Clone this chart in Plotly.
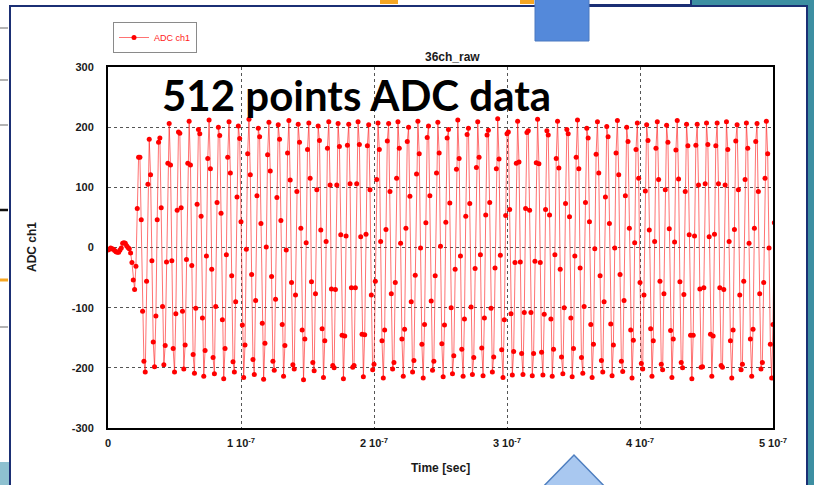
import plotly.graph_objects as go

# ---------------- data ----------------
SAMPLE_PERIOD = 1e-9  # seconds per ADC sample

adc_startup = [-4, -3, -1, -2, -3, -5, -7, -8, -8, -4, -1, 7, 8, 7, 3, 0, -2, -9, -25, -54,
               -70, -31, 65, 150, 150, 46, -106, -189, -207, -56, 105, 180, 121, -22, -157, -198,
               -114, 46, 175, 182, 66, -98, -195, -163, -24, 140]

adc_steady = [
    206, 137, -22, -168, -207, -110, 62, 192, 190, 66, -106, -202, -162, -20, 140,
    210, 137, -30, -178, -209, -101, 72, 196, 189, 52, -117, -214, -171, -14, 148,
    212, 131, -36, -183, -210, -98, 75, 200, 186, 57, -120, -218, -168, -12, 150,
    209, 124, -47, -190, -207, -90, 84, 202, 181, 43, -129, -216, -162, -3, 156,
    213, 121, -45, -186, -211, -88, 86, 198, 184, 40, -126, -219, -159, 1, 154,
    208, 127, -48, -189, -204, -86, 83, 204, 180, 45, -128, -214, -163, -4, 157,
    211, 112, -58, -195, -202, -79, 93, 205, 175, 32, -137, -220, -152, 8, 163,
    207, 115, -57, -191, -205, -77, 96, 202, 178, 29, -135, -216, -155, 10, 165,
    209, 104, -69, -196, -200, -70, 104, 206, 168, 21, -146, -218, -147, 19, 170,
    205, 106, -67, -199, -196, -67, 106, 209, 171, 18, -144, -215, -145, 22, 169,
    204, 96, -79, -203, -194, -56, 113, 207, 163, 10, -155, -217, -137, 30, 177,
    206, 93, -77, -202, -191, -58, 115, 209, 165, 7, -152, -214, -136, 32, 176,
    200, 85, -90, -207, -188, -46, 122, 210, 156, -1, -161, -217, -128, 41, 183,
    202, 86, -89, -204, -189, -47, 124, 208, 157, 2, -160, -215, -129, 42, 182,
    196, 74, -100, -210, -180, -36, 130, 212, 148, -14, -169, -214, -119, 52, 188,
    198, 73, -99, -211, -183, -35, 133, 209, 150, -12, -167, -213, -117, 54, 187,
    195, 75, -101, -207, -182, -34, 131, 214, 147, -13, -170, -216, -120, 53, 189,
    192, 63, -110, -212, -173, -25, 140, 210, 142, -24, -176, -211, -108, 65, 191,
    194, 62, -108, -213, -176, -23, 141, 213, 139, -25, -174, -212, -111, 63, 194,
    187, 54, -119, -214, -169, -12, 148, 210, 132, -36, -182, -210, -100, 73, 196,
    189, 51, -117, -215, -168, -14, 150, 212, 131, -34, -183, -209, -98, 75, 198,
    182, 43, -128, -216, -161, -2, 155, 209, 124, -47, -188, -207, -90, 84, 201,
    184, 40, -127, -213, -162, -1, 157, 211, 121, -45, -189, -206, -88, 86, 200,
    176, 32, -137, -217, -154, 8, 163, 207, 115, -58, -193, -202, -79, 94, 204,
    178, 29, -135, -214, -155, 10, 165, 209, 113, -56, -194, -203, -77, 96, 203,
    175, 31, -138, -216, -152, 9, 162, 211, 114, -57, -191, -200, -78, 93, 205,
    169, 21, -146, -218, -146, 19, 170, 205, 104, -69, -199, -198, -67, 106, 207,
    171, 18, -144, -214, -147, 22, 169, 207, 106, -67, -196, -199, -70, 104, 209,
    163, 10, -155, -217, -137, 30, 177, 204, 96, -79, -203, -194, -56, 113, 207,
    165, 7, -152, -214, -136, 32, 176, 206, 93, -77, -202, -191, -58, 115, 210,
    156, -1, -161, -217, -128, 41, 183, 200, 85, -90, -207, -188, -46, 122, 209,
    155,
]

adc_ch1 = adc_startup + adc_steady
time_sec = [i * SAMPLE_PERIOD for i in range(len(adc_ch1))]

x_tick_vals = [0, 1e-7, 2e-7, 3e-7, 4e-7, 5e-7]
x_tick_text = ["0", "1 10<sup>-7</sup>", "2 10<sup>-7</sup>", "3 10<sup>-7</sup>",
               "4 10<sup>-7</sup>", "5 10<sup>-7</sup>"]
y_tick_vals = [-300, -200, -100, 0, 100, 200, 300]
y_tick_text = ["-300", "-200", "-100", "0", "100", "200", "300"]

# ---------------- layout helpers (pixel -> paper) ----------------
W, H = 814, 485
PL, PR, PT, PB = 108, 773, 67, 428


def fx(px):
    return (px - PL) / (PR - PL)


def fy(py):
    return (PB - py) / (PB - PT)


NAVY = "#1b2f74"
TEAL = "#3d8fa2"

shapes = []
# teal background on the right and top-right
shapes.append(dict(type="rect", xref="paper", yref="paper", x0=fx(808), x1=fx(816), y0=fy(-2), y1=fy(490),
                   fillcolor=TEAL, line=dict(width=0), layer="below"))
shapes.append(dict(type="rect", xref="paper", yref="paper", x0=fx(691), x1=fx(816), y0=fy(-2), y1=fy(7),
                   fillcolor=TEAL, line=dict(width=0), layer="below"))
shapes.append(dict(type="line", xref="paper", yref="paper", x0=fx(560), x1=fx(691), y0=fy(5), y1=fy(5),
                   line=dict(color=NAVY, width=2), layer="below"))
shapes.append(dict(type="line", xref="paper", yref="paper", x0=fx(691), x1=fx(691), y0=fy(-2), y1=fy(6),
                   line=dict(color=NAVY, width=2), layer="below"))
# chart panel
shapes.append(dict(type="rect", xref="paper", yref="paper", x0=fx(10), x1=fx(807), y0=fy(6), y1=fy(495),
                   fillcolor="white", line=dict(color=NAVY, width=2), layer="below"))
# left strip marks
for yy, col, wd in [(28, "#9a9a9a", 1.5), (80, "#9a9a9a", 1.5), (125, "#9a9a9a", 1.5),
                    (210, "#111111", 2.5), (280, "#f5a623", 3), (327, "#9a9a9a", 1.5)]:
    shapes.append(dict(type="line", xref="paper", yref="paper", x0=fx(0), x1=fx(8), y0=fy(yy), y1=fy(yy),
                       line=dict(color=col, width=wd), layer="below"))
shapes.append(dict(type="rect", xref="paper", yref="paper", x0=fx(-2), x1=fx(9), y0=fy(462), y1=fy(490),
                   fillcolor="#8ec1d0", line=dict(width=0), layer="below"))
# orange bits at top
for xa, xb in [(380, 398), (520, 534)]:
    shapes.append(dict(type="rect", xref="paper", yref="paper", x0=fx(xa), x1=fx(xb), y0=fy(-2), y1=fy(4),
                       fillcolor="#f5a623", line=dict(width=0), layer="below"))
# blue rectangle at top
shapes.append(dict(type="rect", xref="paper", yref="paper", x0=fx(535), x1=fx(589), y0=fy(-2), y1=fy(41),
                   fillcolor="#5489da", line=dict(color="#4a78c0", width=1), layer="above"))
# blue triangle at bottom
tri = "M {:.5f},{:.5f} L {:.5f},{:.5f} L {:.5f},{:.5f} Z".format(
    fx(538), fy(492), fx(574), fy(455), fx(610), fy(492))
shapes.append(dict(type="path", xref="paper", yref="paper", path=tri,
                   fillcolor="#a9c8f0", line=dict(color="#4f7fc0", width=1.5), layer="above"))

LABEL_FONT = dict(family="Liberation Sans", size=11, color="#1a1a1a", weight="bold")

annotations = [
    dict(text="512 points ADC data", xref="paper", yref="paper", x=fx(356), y=fy(95),
         xanchor="center", yanchor="middle", showarrow=False,
         font=dict(family="Lato", size=42, color="black", weight="bold")),
    dict(text="36ch_raw", xref="paper", yref="paper", x=fx(452), y=fy(57),
         xanchor="center", yanchor="middle", showarrow=False,
         font=dict(family="Liberation Sans", size=12, color="#1a1a1a", weight="bold")),
    dict(text="Time [sec]", xref="paper", yref="paper", x=fx(440), y=fy(468),
         xanchor="center", yanchor="middle", showarrow=False,
         font=dict(family="Liberation Sans", size=12, color="#1a1a1a", weight="bold")),
    dict(text="ADC ch1", xref="paper", yref="paper", x=fx(32), y=fy(247), textangle=-90,
         xanchor="center", yanchor="middle", showarrow=False,
         font=dict(family="Liberation Sans", size=12, color="#1a1a1a", weight="bold")),
]

fig = go.Figure()
fig.add_trace(go.Scatter(
    x=time_sec, y=adc_ch1, mode="lines+markers", name="ADC ch1",
    line=dict(color="rgba(255,20,20,0.6)", width=1),
    marker=dict(color="#ff0000", size=5),
))

fig.update_layout(
    width=W, height=H,
    margin=dict(l=PL, r=W - PR, t=PT, b=H - PB, autoexpand=False),
    paper_bgcolor="white", plot_bgcolor="rgba(0,0,0,0)",
    showlegend=True,
    legend=dict(x=fx(113), y=1 - 22 / H, xref="paper", yref="container",
                xanchor="left", yanchor="top",
                bgcolor="white", bordercolor="#8a8a8a", borderwidth=1,
                font=dict(family="Liberation Sans", size=9, color="#ff2020"),
                itemwidth=30, tracegroupgap=0),
    shapes=shapes,
    annotations=annotations,
    xaxis=dict(range=[0, 5e-7], tickvals=x_tick_vals, ticktext=x_tick_text,
               showgrid=True, gridcolor="#555555", griddash="dot", gridwidth=1,
               showline=True, linecolor="black", linewidth=2, mirror=True,
               zeroline=False, ticks="", tickfont=LABEL_FONT, ticklabelstandoff=4),
    yaxis=dict(range=[-300, 300], tickvals=y_tick_vals, ticktext=y_tick_text,
               showgrid=True, gridcolor="#555555", griddash="dot", gridwidth=1,
               showline=True, linecolor="black", linewidth=2, mirror=True,
               zeroline=False, ticks="", tickfont=LABEL_FONT, ticklabelstandoff=10),
)

fig.write_html("out.html")
